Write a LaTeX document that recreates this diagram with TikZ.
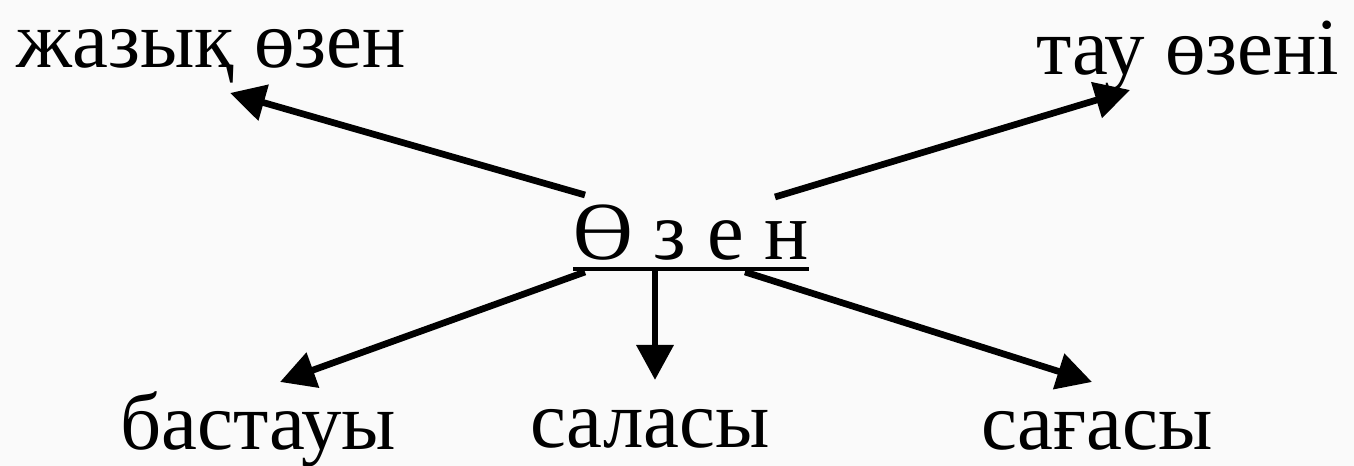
\documentclass[tikz,border=0pt]{standalone}
\usepackage{fontspec}
\setmainfont{Liberation Serif}
\usepackage{tikz}
\usetikzlibrary{arrows.meta,positioning}
\definecolor{paper}{RGB}{250, 250, 250}

\begin{document}
\begin{tikzpicture}[every node/.style={inner sep=0pt, outer sep=0pt, anchor=base, font=\fontsize{23}{28}\selectfont},
  arr/.style={line width=1.9pt, -{Triangle[length=0.35cm, width=0.36cm]}}]
\fill[paper] (0,0) rectangle (13.54,4.66);
\useasboundingbox (0,0) rectangle (13.54,4.66);

% Centre word
\node (river) at (6.91,2.06) {\fontsize{23.5}{28}\selectfont Ө з е н};
\draw[line width=1.2pt] ([yshift=-0.09cm]river.base west) -- ([yshift=-0.09cm]river.base east);

% Top row
\node (flat) at (2.11,3.98) {жазық өзен};
\node (mountain) at (11.88,3.91) {тау өзені};

% Bottom row
\node (source) at (2.58,0.16) {бастауы};
\node (trib) at (6.50,0.18) {саласы};
\node (mouth) at (10.97,0.16) {сағасы};

% Arrow ends
\coordinate (flat tail) at (5.85,2.71);
\coordinate (flat tip) at (2.30,3.73);
\coordinate (mountain tail) at (7.75,2.69);
\coordinate (mountain tip) at (11.30,3.76);
\coordinate (source tail) at (5.85,1.94);
\coordinate (source tip) at (2.80,0.84);
\coordinate (trib tail) at (6.55,1.98);
\coordinate (trib tip) at (6.55,0.86);
\coordinate (mouth tail) at (7.45,1.94);
\coordinate (mouth tip) at (10.92,0.84);

% Arrows
\draw[arr] (flat tail) -- (flat tip);
\draw[arr] (mountain tail) -- (mountain tip);
\draw[arr] (source tail) -- (source tip);
\draw[arr] (trib tail) -- (trib tip);
\draw[arr] (mouth tail) -- (mouth tip);
\end{tikzpicture}
\end{document}
